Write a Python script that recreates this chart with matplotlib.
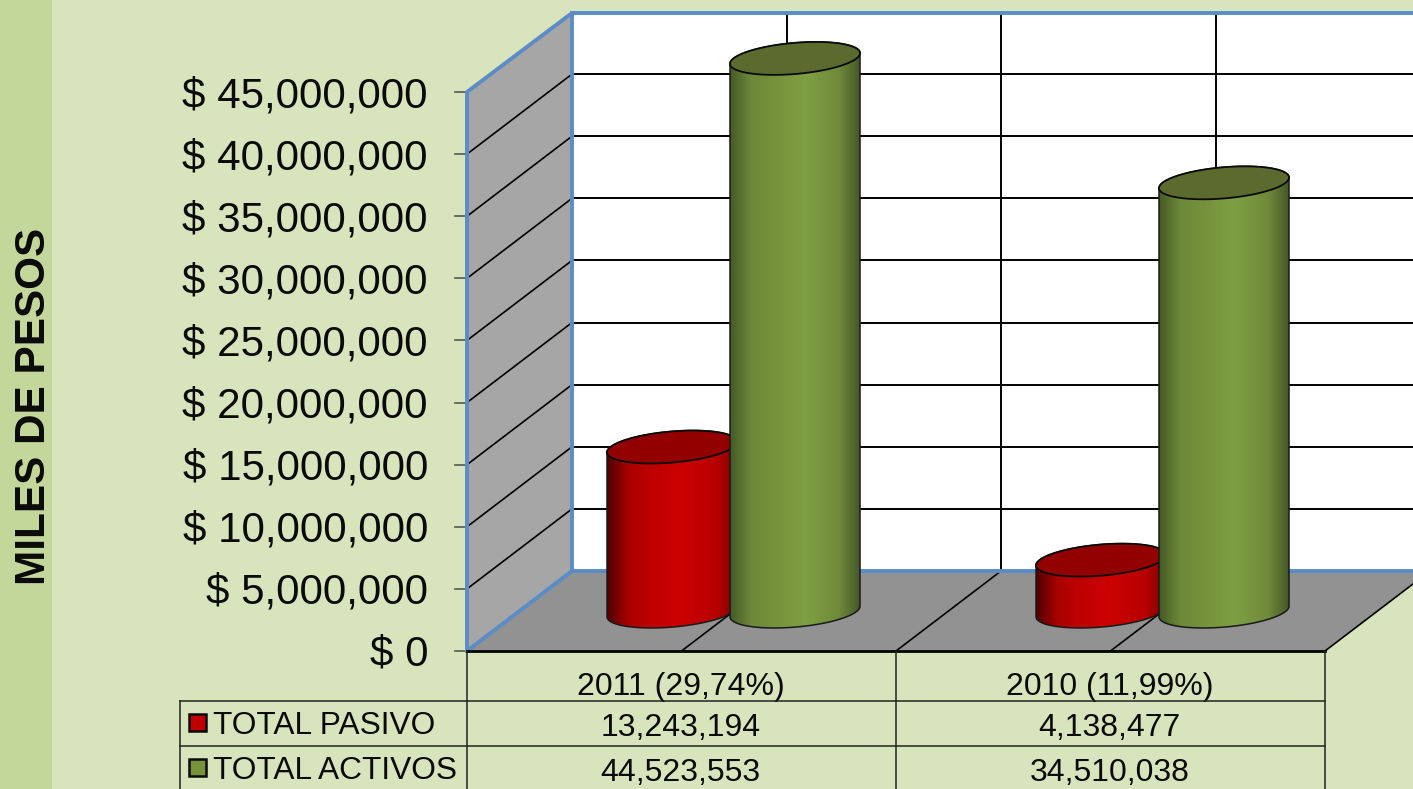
import numpy as np
from matplotlib import pyplot as plt
from matplotlib.patches import Polygon, Rectangle
from matplotlib.colors import LinearSegmentedColormap

# data
categories = ["2011 (29,74%)", "2010 (11,99%)"]
total_pasivo = [13243194, 4138477]
total_activos = [44523553, 34510038]
series_names = ["TOTAL PASIVO", "TOTAL ACTIVOS"]
y_ticks = [0, 5000000, 10000000, 15000000, 20000000, 25000000, 30000000, 35000000, 40000000, 45000000]
y_title = "MILES DE PESOS"

# look
BG = "#d8e4bc"
BAND = "#c4d79b"
BLUE = "#5b8cc6"
FONT = "Liberation Sans"
red_stops = ["#4e0000", "#a80000", "#c00000", "#cc0000", "#b80000", "#7c0000"]
green_stops = ["#465a26", "#6c883a", "#76933c", "#7f9f43", "#6f8a3a", "#465828"]
stop_pos = [0, 0.16, 0.35, 0.58, 0.84, 1]

# chart box in pixels
X0, X1 = 467, 1325
Y0 = 651
DX, DY = 105, 80
PX_PER_UNIT = (651 - 92) / 45000000
BAR_W = 130
BAR_HALF_H = 15.6
BAR_SHEAR = 5.3
BAR_BASE = 611.5
CAT_W = (X1 - X0) / len(categories)
BAR_OFFSET = [205, 328]


def front_y(v):
    return Y0 - v * PX_PER_UNIT


def ellipse(cx, cy, t):
    a = BAR_W / 2
    return cx + a * np.cos(t), cy - BAR_HALF_H * np.sin(t) - BAR_SHEAR * np.cos(t)


def cylinder(ax, cx, value, stops, top_color):
    top = BAR_BASE - value * PX_PER_UNIT
    # body outline: top half of the top rim, then lower half of the bottom rim
    t1 = np.linspace(0, np.pi, 60)
    t2 = np.linspace(np.pi, 2 * np.pi, 60)
    xa, ya = ellipse(cx, top, t1)
    xb, yb = ellipse(cx, BAR_BASE, t2)
    xs = np.r_[xa, xb, xa[0]]
    ys = np.r_[ya, yb, ya[0]]
    body = Polygon(np.c_[xs, ys], closed=True, fc="none", ec="none", zorder=4)
    ax.add_patch(body)
    cmap = LinearSegmentedColormap.from_list("c", list(zip(stop_pos, stops)))
    im = ax.imshow(np.linspace(0, 1, 256).reshape(1, -1), cmap=cmap, aspect="auto",
                   extent=(cx - BAR_W / 2, cx + BAR_W / 2, BAR_BASE + 25, top - 25), zorder=4)
    im.set_clip_path(body)
    ax.plot(xs, ys, color="#1a1a1a", lw=1.1, zorder=4)
    t = np.linspace(0, 2 * np.pi, 120)
    xt, yt = ellipse(cx, top, t)
    ax.fill(xt, yt, fc=top_color, ec="#0a0a0a", lw=1.3, zorder=4)


fig = plt.figure(figsize=(14.13, 7.89), dpi=100, facecolor=BG)
ax = fig.add_axes([0, 0, 1, 1])
ax.axis("off")

ax.add_patch(Rectangle((0, 0), 52, 789, fc=BAND, ec="none", zorder=0))

# walls and floor
ax.add_patch(Rectangle((X0 + DX, Y0 - DY - 558), 900, 558, fc="white", ec="none", zorder=1))
ax.add_patch(Polygon([(X0, 92), (X0 + DX, 13), (X0 + DX, Y0 - DY), (X0, Y0)], fc="#a6a6a6", ec="none", zorder=1))
ax.add_patch(Polygon([(X0, Y0), (X1, Y0), (X1 + DX, Y0 - DY), (X0 + DX, Y0 - DY)], fc="#929292", ec="none", zorder=1))

# gridlines
for v in y_ticks[1:-1]:
    y = front_y(v)
    ax.plot([X0, X0 + DX], [y, y - DY], color="black", lw=1.2, zorder=2)
    ax.plot([X0 + DX, 1413], [y - DY, y - DY], color="black", lw=1.4, zorder=2)
for i in range(5):
    x = X0 + i * CAT_W / 2
    if i > 0:
        ax.plot([x, x + DX], [Y0, Y0 - DY], color="black", lw=1.2, zorder=2)
    if 0 < i < 4:
        ax.plot([x + DX, x + DX], [Y0 - DY, 13], color="black", lw=1.4, zorder=2)

# blue frame
frame = [[(X0, Y0), (X0, 92), (X0 + DX, 13), (1413, 13)],
         [(X0 + DX, 13), (X0 + DX, Y0 - DY), (1413, Y0 - DY)],
         [(X0, Y0), (X0 + DX, Y0 - DY)]]
for seg in frame:
    seg = np.array(seg)
    ax.plot(seg[:, 0], seg[:, 1], color=BLUE, lw=2.8, zorder=3, solid_capstyle="projecting")

# y ticks and labels
for v in y_ticks:
    y = front_y(v)
    ax.plot([455, X0], [y, y], color="#555555", lw=1.2, zorder=2)
    ax.text(428, y + 4, "$ {:,}".format(v), ha="right", va="center", fontsize=30.3, family=FONT, color="#0a0a0a")

ax.text(34, 406, y_title, rotation=90, ha="center", va="center", fontsize=30.4, fontweight="bold", family=FONT, color="#0a0a0a")

# bars
for i in range(len(categories)):
    x = X0 + i * CAT_W
    cylinder(ax, x + BAR_OFFSET[0], total_pasivo[i], red_stops, "#930000")
    cylinder(ax, x + BAR_OFFSET[1], total_activos[i], green_stops, "#5b6b2e")

# data table
ROW1, ROW2 = 701, 746
ax.plot([X0, X1], [Y0, Y0], color="black", lw=2, zorder=5)
ax.plot([180, X1], [ROW1, ROW1], color="#222222", lw=1.1, zorder=5)
ax.plot([180, X1], [ROW2, ROW2], color="#222222", lw=1.1, zorder=5)
ax.plot([180, 180], [ROW1, 789], color="#222222", lw=1.1, zorder=5)
for x in [X0, X0 + CAT_W, X1]:
    ax.plot([x, x], [Y0, 789], color="#222222", lw=1.1, zorder=5)

for i, c in enumerate(categories):
    x = X0 + (i + 0.5) * CAT_W - 1
    ax.text(x, 687, c, ha="center", va="center", fontsize=23, family=FONT, color="#0a0a0a")
    ax.text(x, 728, "{:,}".format(total_pasivo[i]), ha="center", va="center", fontsize=23, family=FONT, color="#0a0a0a")
    ax.text(x, 773, "{:,}".format(total_activos[i]), ha="center", va="center", fontsize=23, family=FONT, color="#0a0a0a")

for name, y, col in zip(series_names, [723, 768], ["#c00000", "#76933c"]):
    ax.add_patch(Rectangle((189, y - 9), 17, 17, fc=col, ec="#0a0a0a", lw=1.8, zorder=5))
    ax.text(213, y + 3, name, ha="left", va="center", fontsize=22.8, family=FONT, color="#0a0a0a")

ax.set_xlim(0, 1413)
ax.set_ylim(789, 0)
fig.savefig("out.png", dpi=100, facecolor=BG)
